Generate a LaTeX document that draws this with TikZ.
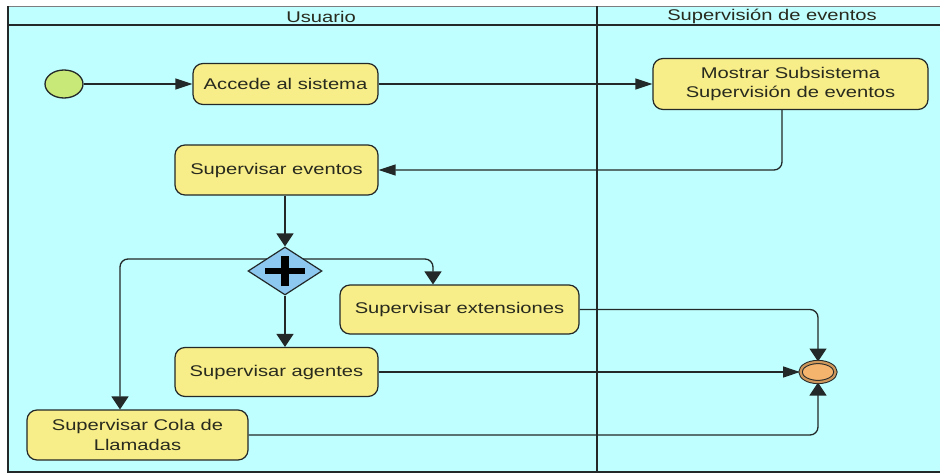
\documentclass[tikz,border=0pt]{standalone}
\usepackage{fontspec}
\setmainfont{Liberation Sans}[FakeStretch=1.3]
\usetikzlibrary{shapes.geometric,arrows.meta}

\definecolor{lanebg}{RGB}{192,255,255}
\definecolor{linec}{RGB}{35,40,40}
\definecolor{actfill}{RGB}{247,237,137}
\definecolor{startfill}{RGB}{200,232,120}
\definecolor{gwfill}{RGB}{140,200,240}
\definecolor{finfill}{RGB}{245,180,110}
\definecolor{ringc}{RGB}{205,150,90}
\definecolor{txt}{RGB}{40,42,30}

\pgfdeclarelayer{lanes}
\pgfdeclarelayer{edges}
\pgfsetlayers{lanes,edges,main}

\begin{document}
\begin{tikzpicture}[x=1pt,y=-1pt,
  act/.style={draw=linec, line width=1.2pt, fill=actfill, rounded corners=10pt,
    align=center, inner sep=0pt, text=txt, font=\fontsize{15.5}{19.5}\selectfont},
  flow/.style={draw=linec, line width=1.3pt, rounded corners=8pt},
  harr/.style={-{Triangle[length=17pt,width=11pt]}},
  varr/.style={-{Triangle[length=13pt,width=17pt]}},
  lanetitle/.style={text=txt, font=\fontsize{15.5}{19}\selectfont}]

\useasboundingbox (0,0) rectangle (940,474);

% swimlane pool
\begin{pgfonlayer}{lanes}
  \fill[lanebg] (8,6) rectangle (940,472);
  \draw[linec!60, line width=0.7pt] (8,6) -- (940,6);
  \draw[linec, line width=1.2pt] (8,6) -- (8,472) -- (940,472);
  \draw[linec, line width=1.2pt] (8,25) -- (940,25);
  \draw[linec, line width=1.2pt] (597,6) -- (597,472);
\end{pgfonlayer}

\node[lanetitle] (hdrA) at (321,16.5) {Usuario};
\node[lanetitle] (hdrB) at (772,16.5) {Supervisión de eventos};

% activities
\node[ellipse, draw=linec, line width=1.3pt, fill=startfill,
      minimum width=38pt, minimum height=28pt, inner sep=0pt] (start) at (64,84) {};
\node[act, minimum width=185pt, minimum height=41pt] (acc) at (285.5,84) {Accede al sistema};
\node[act, minimum width=275pt, minimum height=51pt] (most) at (790.5,84)
  {Mostrar Subsistema\\Supervisión de eventos};
\node[act, minimum width=203pt, minimum height=50pt] (sev) at (276.5,170) {Supervisar eventos};
\node[diamond, draw=linec, line width=1.2pt, fill=gwfill,
      minimum width=74pt, minimum height=48pt, inner sep=0pt,
      path picture={
        \draw[black, line width=6pt] (path picture bounding box.center) ++(-20pt,0pt) -- ++(40pt,0pt);
        \draw[black, line width=7.5pt] (path picture bounding box.center) ++(0pt,-15pt) -- ++(0pt,30pt);
      }] (gw) at (285,271) {};
\node[act, minimum width=239pt, minimum height=49pt] (ext) at (459.5,309.5) {Supervisar extensiones};
\node[act, minimum width=203pt, minimum height=49pt] (ag) at (276.5,372) {Supervisar agentes};
\node[act, minimum width=221pt, minimum height=50pt] (cola) at (137.5,435)
  {Supervisar Cola de\\Llamadas};
\node[ellipse, draw=linec, line width=1pt, double=ringc, double distance=2.2pt,
      fill=finfill, minimum width=35pt, minimum height=20pt, inner sep=0pt] (fin) at (818,372) {};

% bends of the flows
\coordinate (back) at (782,170);
\coordinate (forkL) at (120,259);
\coordinate (forkR) at (433,259);

% control flows
\begin{pgfonlayer}{edges}
  \draw[flow,harr] (start) -- (acc);
  \draw[flow,harr] (acc) -- (most);
  \draw[flow,harr] (most.south -| back) -- (back) -- (sev.east |- back);
  \draw[flow,varr] (sev.south -| gw) -- (gw.north);
  \draw[flow,varr] (gw.center |- forkL) -- (forkL) -- (forkL |- cola.north);
  \draw[flow,varr] (gw.center |- forkR) -- (forkR) -- (forkR |- ext.north);
  \draw[flow,varr] (gw.south) -- (gw.south |- ag.north);
  \draw[flow,varr] (ext.east) -- (ext.east -| fin) -- (fin.north);
  \draw[flow,harr] (ag) -- (fin);
  \draw[flow,varr] (cola.east) -- (cola.east -| fin) -- (fin.south);
\end{pgfonlayer}
\end{tikzpicture}
\end{document}
